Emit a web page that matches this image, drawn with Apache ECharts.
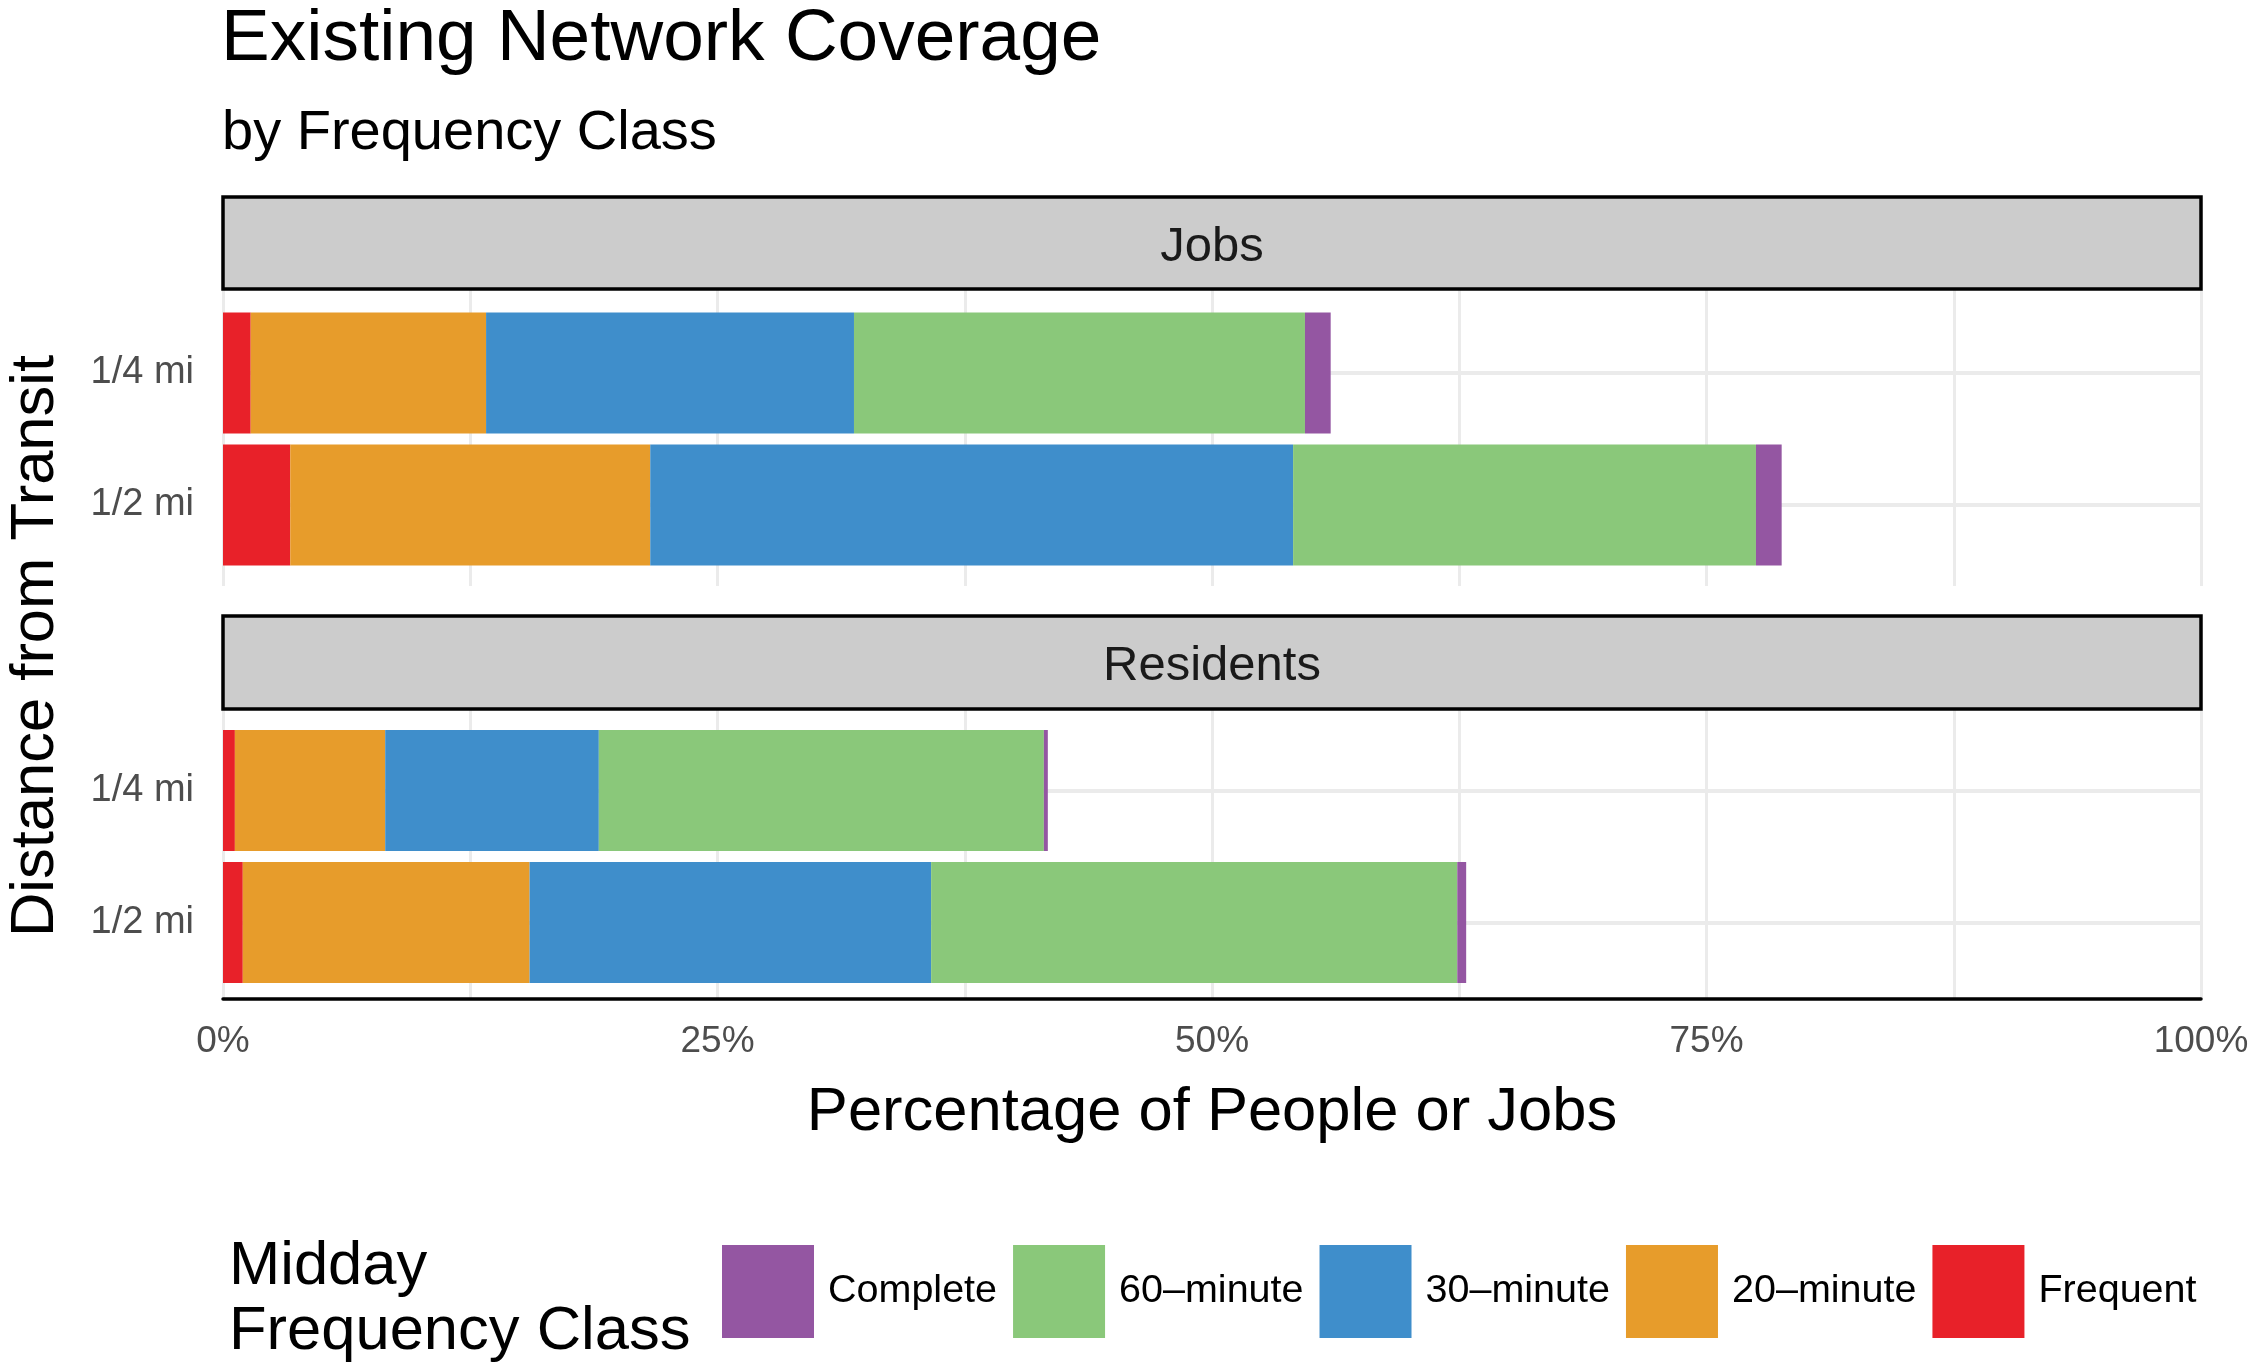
<!DOCTYPE html>
<html>
<head>
<meta charset="utf-8">
<script src="https://cdn.jsdelivr.net/npm/echarts@6/dist/echarts.min.js"></script>
<style>
html,body{margin:0;padding:0;background:#fff;}
#chart{width:2254px;height:1366px;}
</style>
</head>
<body>
<div id="chart"></div>
<script>
// ---- data ----
const distances = ['1/4 mi', '1/2 mi'];
const classNames = ['Frequent', '20–minute', '30–minute', '60–minute', 'Complete'];
const legendOrder = ['Complete', '60–minute', '30–minute', '20–minute', 'Frequent'];
const xTicks = [0, 25, 50, 75, 100];

const jobsFrequent = [1.4, 3.4];
const jobs20 = [11.9, 18.2];
const jobs30 = [18.6, 32.5];
const jobs60 = [22.8, 23.4];
const jobsComplete = [1.3, 1.3];

const resFrequent = [0.6, 1.0];
const res20 = [7.6, 14.5];
const res30 = [10.8, 20.3];
const res60 = [22.5, 26.6];
const resComplete = [0.2, 0.45];

const panelNames = ['Jobs', 'Residents'];

// ---- styles ----
const colors = {
  'Frequent': '#E82129',
  '20–minute': '#E79C2B',
  '30–minute': '#3F8ECB',
  '60–minute': '#8AC87A',
  'Complete': '#9456A2'
};
const FONT = 'Liberation Sans, Arial, sans-serif';
const GRID_COLOR = '#EBEBEB';

const jobsData = [jobsFrequent, jobs20, jobs30, jobs60, jobsComplete];
const resData = [resFrequent, res20, res30, res60, resComplete];

const chart = echarts.init(document.getElementById('chart'), null, {renderer: 'canvas'});

function barSeries(data, idx, stack) {
  return classNames.map((name, i) => {
    const s = {
      name: name,
      type: 'bar',
      stack: stack,
      xAxisIndex: idx,
      yAxisIndex: idx,
      barWidth: 121,
      z: 3,
      itemStyle: {color: colors[name]},
      emphasis: {disabled: true},
      data: data[i]
    };
    if (i === 0) {
      s.markLine = {
        silent: true,
        z: 1,
        symbol: ['none', 'none'],
        label: {show: false},
        lineStyle: {color: GRID_COLOR, width: 4, type: 'solid'},
        emphasis: {disabled: true},
        data: distances.map(d => ({yAxis: d}))
      };
    }
    return s;
  });
}

const bgX = (showLabels) => ({
  type: 'value', min: 0, max: 100, interval: 25,
  axisLine: {show: showLabels, onZero: false, lineStyle: {color: '#000', width: 3.5}},
  axisTick: {show: false},
  axisLabel: {
    show: showLabels, formatter: v => v + '%', color: '#4D4D4D', fontSize: 37,
    fontFamily: FONT, margin: 24, showMinLabel: true, showMaxLabel: true, hideOverlap: false
  },
  splitLine: {show: true, lineStyle: {color: GRID_COLOR, width: 3}},
  minorTick: {show: false, splitNumber: 2},
  minorSplitLine: {show: true, lineStyle: {color: GRID_COLOR, width: 3}},
  name: showLabels ? 'Percentage of People or Jobs' : '',
  nameLocation: 'middle',
  nameGap: 83,
  nameTextStyle: {fontSize: 61.5, color: '#000', fontFamily: FONT}
});
const fgX = () => ({
  type: 'value', min: 0, max: 100, show: false,
  splitLine: {show: false}
});
const bgY = () => ({type: 'value', min: 0, max: 1, show: false});
const fgY = () => ({
  type: 'category', data: distances, inverse: true,
  axisLine: {show: false}, axisTick: {show: false},
  splitLine: {show: false},
  axisLabel: {color: '#4D4D4D', fontSize: 38, fontFamily: FONT, margin: 29}
});

const L = 223, R = 53, W = 2254 - L - R;

function strip(y, h, label) {
  return [{
    type: 'rect', silent: true, z: 10,
    shape: {x: L, y: y, width: W, height: h},
    style: {fill: '#CCCCCC', stroke: '#000', lineWidth: 3.5}
  }, {
    type: 'text', silent: true, z: 11,
    x: L + W / 2, y: y + h / 2 + 4,
    style: {text: label, fontSize: 49, fill: '#1A1A1A', fontFamily: FONT, align: 'center', verticalAlign: 'middle'}
  }];
}

const option = {
  animation: false,
  backgroundColor: '#fff',
  textStyle: {fontFamily: FONT},
  title: [
    {text: 'Existing Network Coverage', left: 221, top: 3, padding: 0,
     textStyle: {fontSize: 73, fontWeight: 'normal', color: '#000', fontFamily: FONT}},
    {text: 'by Frequency Class', left: 222, top: 106, padding: 0,
     textStyle: {fontSize: 56, fontWeight: 'normal', color: '#000', fontFamily: FONT}}
  ],
  legend: {
    data: legendOrder,
    left: 722, top: 1245, padding: 0,
    orient: 'horizontal',
    icon: 'rect',
    itemWidth: 92, itemHeight: 93, itemGap: 16,
    selectedMode: false,
    textStyle: {fontSize: 39.5, color: '#000', fontFamily: FONT, padding: [0, 0, 0, 9]}
  },
  grid: [
    {left: L, right: R, top: 290, height: 296, outerBoundsMode: 'none'},
    {left: L, right: R, top: 307, height: 264, outerBoundsMode: 'none'},
    {left: L, right: R, top: 710, height: 289, outerBoundsMode: 'none'},
    {left: L, right: R, top: 724.5, height: 264, outerBoundsMode: 'none'}
  ],
  xAxis: [
    Object.assign(bgX(false), {gridIndex: 0}),
    Object.assign(fgX(), {gridIndex: 1}),
    Object.assign(bgX(true), {gridIndex: 2}),
    Object.assign(fgX(), {gridIndex: 3})
  ],
  yAxis: [
    Object.assign(bgY(), {gridIndex: 0}),
    Object.assign(fgY(), {gridIndex: 1}),
    Object.assign(bgY(), {gridIndex: 2}),
    Object.assign(fgY(), {gridIndex: 3})
  ],
  series: [].concat(barSeries(jobsData, 1, 'jobs'), barSeries(resData, 3, 'res')),
  graphic: [].concat(
    strip(197, 92, panelNames[0]),
    strip(616, 93, panelNames[1]),
    [{
      type: 'text', silent: true, x: 36, y: 646, rotation: Math.PI / 2,
      style: {text: 'Distance from Transit', fontSize: 61.5, fill: '#000', fontFamily: FONT, align: 'center', verticalAlign: 'middle'}
    }, {
      type: 'text', silent: true, x: 229, y: 1235,
      style: {text: 'Midday\nFrequency Class', fontSize: 61.5, lineHeight: 65, fill: '#000', fontFamily: FONT, align: 'left', verticalAlign: 'top'}
    }]
  )
};
chart.setOption(option);
</script>
</body>
</html>
